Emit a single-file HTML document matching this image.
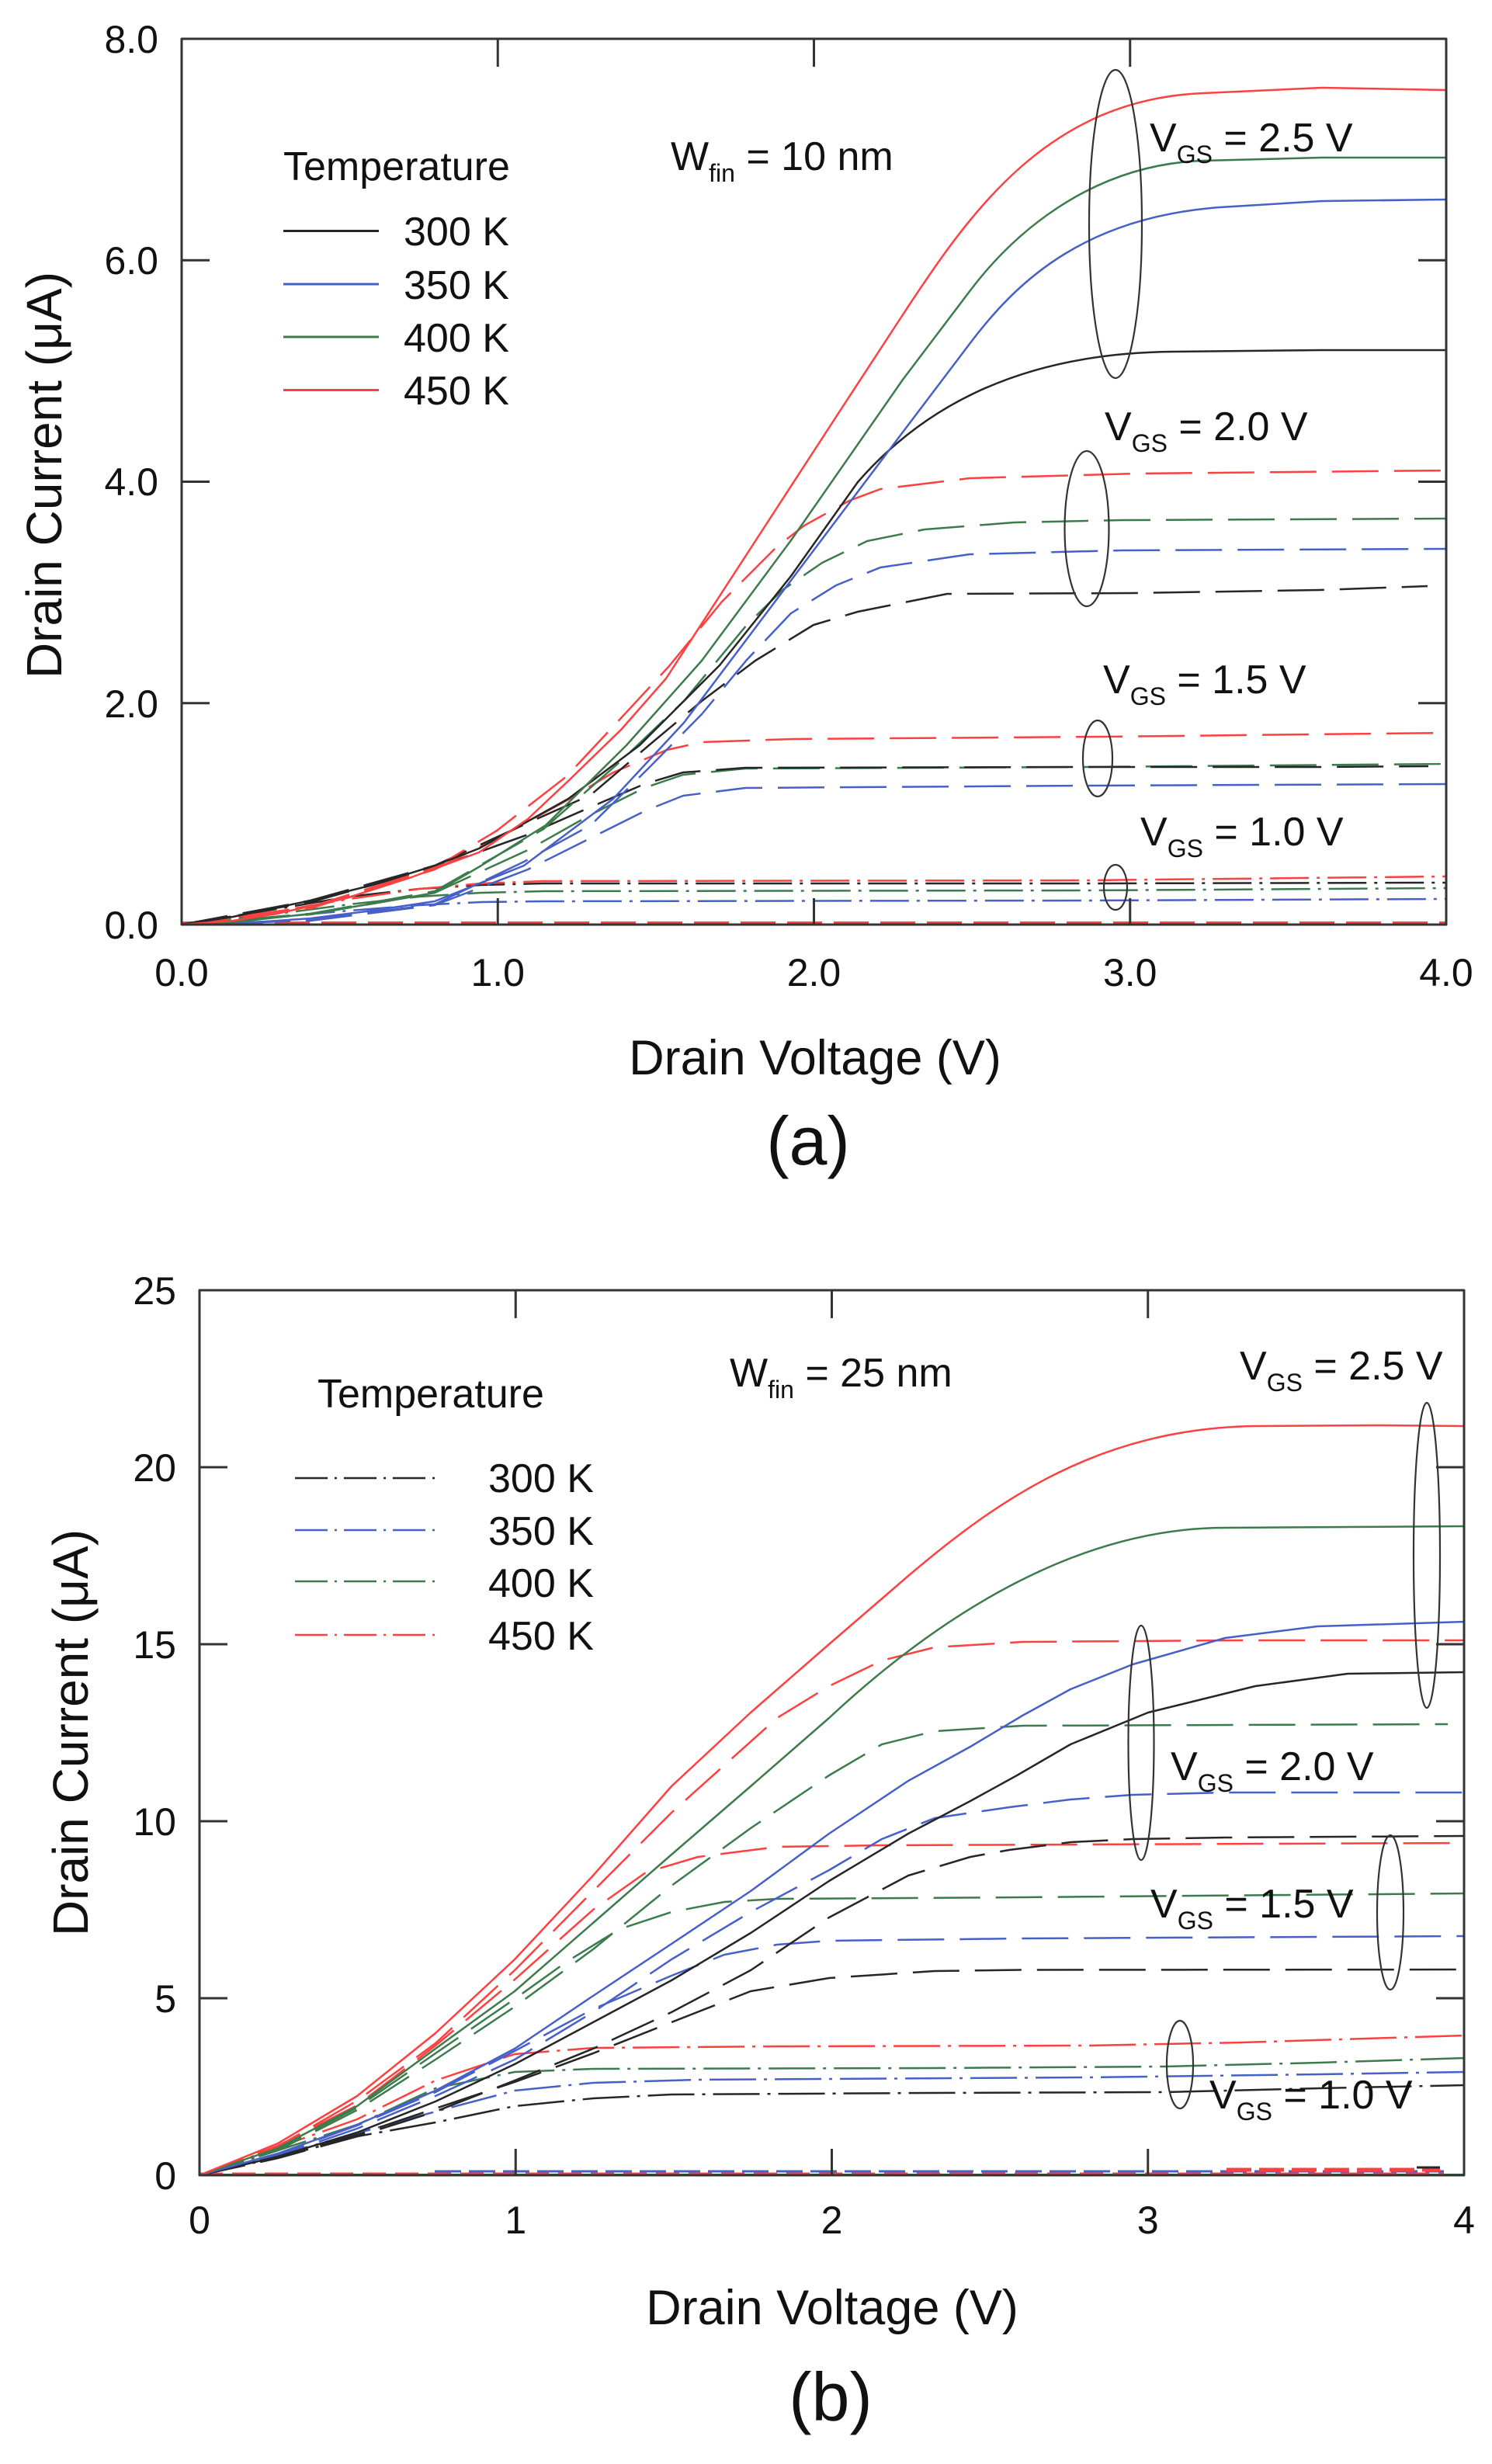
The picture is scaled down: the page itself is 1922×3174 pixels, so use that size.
<!DOCTYPE html>
<html>
<head>
<meta charset="utf-8">
<style>
html,body{margin:0;padding:0;background:#fff;}
svg{display:block;}
text{font-family:"Liberation Sans",Arial,sans-serif;fill:#111;white-space:pre;}
</style>
</head>
<body>
<svg width="1922" height="3174" viewBox="0 0 1922 3174" xmlns="http://www.w3.org/2000/svg">
<rect x="0" y="0" width="1922" height="3174" fill="#fff"/>

<!-- ================= PANEL (a) ================= -->
<g fill="none" stroke-linejoin="round" stroke-linecap="butt">
  <line x1="234" y1="1191" x2="1863" y2="1191" stroke="#3c7c4c" stroke-width="2"/>
  <line x1="234" y1="1189" x2="1863" y2="1189" stroke="#ff4040" stroke-width="4" stroke-dasharray="45 15"/>

  <g stroke-width="2.5" stroke-dasharray="50 10 4 10">
    <path stroke="#4660c8" d="M234,1191 L350,1182 L450,1173 L540,1166 L620,1162 L700,1161 L1400,1160 L1863,1158"/>
    <path stroke="#3c7c4c" d="M234,1191 L350,1178 L450,1165 L540,1155 L620,1150 L700,1148 L1400,1147 L1863,1144"/>
    <path stroke="#262626" d="M234,1191 L350,1172 L450,1155 L540,1145 L620,1140 L700,1138 L1400,1138 L1863,1137"/>
    <path stroke="#ff4040" d="M234,1191 L350,1175 L450,1158 L540,1145 L620,1138 L700,1135 L1400,1134 L1863,1129"/>
  </g>

  <g stroke-width="2.5" stroke-dasharray="60 20">
    <path stroke="#4660c8" d="M234,1191 L400,1186 L560,1166 L680,1120 L760,1080 L830,1045 L880,1025 L960,1015 L1400,1012 L1863,1010"/>
    <path stroke="#3c7c4c" d="M234,1191 L400,1178 L560,1150 L680,1095 L760,1050 L830,1015 L880,998 L960,990 L1400,988 L1863,984"/>
    <path stroke="#262626" d="M234,1191 L400,1162 L560,1118 L680,1075 L760,1040 L830,1010 L880,995 L960,989 L1400,988 L1700,988 L1840,987"/>
    <path stroke="#ff4040" d="M234,1191 L400,1170 L560,1120 L650,1075 L732,1030 L790,995 L859,966 L904,956 L1019,952 L1421,949 L1863,944"/>
  </g>

  <g stroke-width="2.5" stroke-dasharray="60 20">
    <path stroke="#262626" d="M234,1191 L400,1160 L560,1115 L680,1060 L761,1024 L836,960 L904,903 L973,851 L1048,805 L1105,788 L1220,765 L1456,764 L1700,760 L1839,755"/>
    <path stroke="#4660c8" d="M234,1191 L400,1185 L560,1165 L675,1110 L761,1063 L836,989 L904,920 L962,850 L1019,790 L1077,754 L1134,731 L1249,714 L1444,709 L1863,707"/>
    <path stroke="#3c7c4c" d="M234,1191 L400,1177 L560,1148 L700,1068 L800,980 L881,903 L962,805 L1008,760 L1059,725 L1117,697 L1191,682 L1306,673 L1444,670 L1863,668"/>
    <path stroke="#ff4040" d="M234,1191 L400,1168 L560,1118 L640,1070 L730,1000 L800,925 L862,858 L930,775 L1000,705 L1036,677 L1094,645 L1134,630 L1249,616 L1463,610 L1863,606"/>
  </g>

  <g stroke-width="2.5">
    <path stroke="#262626" d="M234,1191 L300,1181 L400,1160 L480,1140 L560,1115 L617,1093 L732,1029 L824,960 L927,857 L1019,742 L1105,621 C1180,535 1300,455 1511,453 L1703,451 L1863,451"/>
    <path stroke="#4660c8" d="M234,1191 L300,1190 L400,1183 L480,1173 L560,1161 L675,1115 L790,1029 L881,931 L1036,725 L1134,595 L1249,443 C1310,362 1400,275 1588,266 L1703,259 L1863,257"/>
    <path stroke="#3c7c4c" d="M234,1191 L300,1188 L400,1177 L480,1164 L560,1150 L620,1115 L703,1063 L807,960 L904,851 L1019,696 L1163,489 L1250,374 C1300,308 1400,212 1550,207 L1703,203 L1863,203"/>
    <path stroke="#ff4040" d="M234,1191 L300,1186 L356,1177 L446,1157 L530,1130 L617,1098 L680,1055 L732,1006 L800,940 L858,874 L960,717 L1077,537 L1160,410 C1250,272 1350,128 1550,120 L1703,113 L1863,116"/>
  </g>

  <g stroke="#333" stroke-width="2.2">
    <ellipse cx="1437" cy="288.5" rx="34" ry="198.5"/>
    <ellipse cx="1400" cy="681" rx="28.5" ry="100"/>
    <ellipse cx="1414" cy="977" rx="19" ry="49"/>
    <ellipse cx="1437" cy="1143" rx="15" ry="29"/>
  </g>

  <g stroke-width="3">
    <line x1="365" y1="297.5" x2="488" y2="297.5" stroke="#262626"/>
    <line x1="365" y1="366" x2="488" y2="366" stroke="#4660c8"/>
    <line x1="365" y1="434" x2="488" y2="434" stroke="#3c7c4c"/>
    <line x1="365" y1="502.5" x2="488" y2="502.5" stroke="#ff4040"/>
  </g>

  <rect x="234" y="50" width="1629" height="1141" stroke="#333" stroke-width="3"/>
  <g stroke="#333" stroke-width="3">
    <line x1="234" y1="905.75" x2="270" y2="905.75"/>
    <line x1="234" y1="620.5" x2="270" y2="620.5"/>
    <line x1="234" y1="335.25" x2="270" y2="335.25"/>
    <line x1="1863" y1="905.75" x2="1827" y2="905.75"/>
    <line x1="1863" y1="620.5" x2="1827" y2="620.5"/>
    <line x1="1863" y1="335.25" x2="1827" y2="335.25"/>
    <line x1="641.25" y1="1191" x2="641.25" y2="1157"/>
    <line x1="1048.5" y1="1191" x2="1048.5" y2="1157"/>
    <line x1="1455.75" y1="1191" x2="1455.75" y2="1157"/>
    <line x1="641.25" y1="50" x2="641.25" y2="86"/>
    <line x1="1048.5" y1="50" x2="1048.5" y2="86"/>
    <line x1="1455.75" y1="50" x2="1455.75" y2="86"/>
  </g>
</g>

<g font-size="50" text-anchor="end">
  <text x="204" y="68">8.0</text>
  <text x="204" y="353">6.0</text>
  <text x="204" y="638">4.0</text>
  <text x="204" y="924">2.0</text>
  <text x="204" y="1209">0.0</text>
</g>
<g font-size="50" text-anchor="middle">
  <text x="234" y="1270">0.0</text>
  <text x="641.25" y="1270">1.0</text>
  <text x="1048.5" y="1270">2.0</text>
  <text x="1455.75" y="1270">3.0</text>
  <text x="1863" y="1270">4.0</text>
</g>
<text x="1050" y="1384" font-size="63" text-anchor="middle">Drain Voltage (V)</text>
<text transform="translate(79,612) rotate(-90)" font-size="64" text-anchor="middle">Drain Current (μA)</text>
<text x="1041" y="1500" font-size="88" text-anchor="middle">(a)</text>

<g font-size="52">
  <text x="365" y="232">Temperature</text>
  <text x="520" y="316">300 K</text>
  <text x="520" y="385">350 K</text>
  <text x="520" y="453">400 K</text>
  <text x="520" y="521">450 K</text>
  <text x="864" y="219">W<tspan font-size="32" dy="15">fin</tspan><tspan dy="-15"> = 10 nm</tspan></text>
  <text x="1481" y="195">V<tspan font-size="32" dy="15">GS</tspan><tspan dy="-15"> = 2.5 V</tspan></text>
  <text x="1423" y="567">V<tspan font-size="32" dy="15">GS</tspan><tspan dy="-15"> = 2.0 V</tspan></text>
  <text x="1421" y="893">V<tspan font-size="32" dy="15">GS</tspan><tspan dy="-15"> = 1.5 V</tspan></text>
  <text x="1469" y="1089">V<tspan font-size="32" dy="15">GS</tspan><tspan dy="-15"> = 1.0 V</tspan></text>
</g>

<!-- ================= PANEL (b) ================= -->
<g fill="none" stroke-linejoin="round" stroke-linecap="butt">
  <line x1="257" y1="2801" x2="1886" y2="2801" stroke="#3c7c4c" stroke-width="2"/>
  <line x1="257" y1="2800" x2="1860" y2="2800" stroke="#ff4040" stroke-width="3" stroke-dasharray="30 12"/>
  <line x1="560" y1="2797" x2="1860" y2="2797" stroke="#4660c8" stroke-width="3" stroke-dasharray="34 10"/>
  <line x1="1580" y1="2795" x2="1855" y2="2795" stroke="#ff4040" stroke-width="5" stroke-dasharray="32 10"/>
  <line x1="1825" y1="2792" x2="1855" y2="2792" stroke="#262626" stroke-width="3"/>

  <g stroke-width="2.5" stroke-dasharray="60 10 4 10">
    <path stroke="#262626" d="M257,2802 L358,2779 L460,2752 L561,2734 L663,2713 L764,2703 L865,2698 L1200,2696 L1500,2695 L1700,2690 L1887,2686"/>
    <path stroke="#4660c8" d="M257,2802 L358,2776 L460,2748 L561,2720 L663,2693 L764,2683 L900,2679 L1400,2676 L1700,2672 L1887,2669"/>
    <path stroke="#3c7c4c" d="M257,2802 L358,2770 L460,2737 L561,2690 L663,2669 L764,2665 L1200,2664 L1500,2662 L1700,2657 L1887,2651"/>
    <path stroke="#ff4040" d="M257,2802 L358,2766 L460,2730 L561,2680 L663,2646 L764,2638 L1000,2636 L1400,2635 L1600,2631 L1887,2622"/>
  </g>

  <g stroke-width="2.5" stroke-dasharray="60 20">
    <path stroke="#262626" d="M257,2802 L358,2779 L460,2750 L561,2716 L663,2682 L764,2645 L865,2605 L967,2565 L1068,2548 L1204,2539 L1317,2537.5 L1887,2537"/>
    <path stroke="#4660c8" d="M257,2802 L358,2775 L460,2738 L561,2695 L663,2642 L764,2588 L865,2545 L933,2518 L1001,2505 L1068,2500 L1317,2497 L1887,2494"/>
    <path stroke="#3c7c4c" d="M257,2802 L358,2768 L460,2715 L561,2645 L663,2575 L730,2527 L798,2485 L865,2463 L933,2450 L1001,2446 L1317,2444 L1887,2439"/>
    <path stroke="#ff4040" d="M257,2802 L358,2764 L460,2712 L561,2635 L663,2550 L764,2460 L832,2412 L899,2392 L1001,2379 L1136,2377 L1887,2374"/>
  </g>

  <g stroke-width="2.5" stroke-dasharray="60 20">
    <path stroke="#262626" d="M257,2802 L358,2780 L460,2752 L561,2720 L663,2680 L764,2639 L865,2592 L967,2538 L1068,2470 L1170,2416 L1250,2392 L1300,2383 L1379,2373 L1459,2369 L1578,2367 L1887,2365"/>
    <path stroke="#4660c8" d="M257,2802 L358,2777 L460,2742 L561,2700 L663,2653 L764,2592 L865,2524 L967,2463 L1068,2409 L1136,2369 L1204,2342 L1300,2328 L1379,2318 L1459,2312 L1578,2309 L1887,2309"/>
    <path stroke="#3c7c4c" d="M257,2802 L358,2770 L460,2718 L561,2653 L663,2585 L764,2511 L865,2429 L967,2355 L1068,2287 L1136,2247 L1204,2230 L1317,2223 L1865,2221"/>
    <path stroke="#ff4040" d="M257,2802 L358,2765 L460,2706 L561,2632 L663,2538 L764,2436 L865,2335 L933,2274 L1001,2213 L1068,2172 L1136,2139 L1204,2122 L1317,2115 L1600,2113 L1887,2113"/>
  </g>

  <g stroke-width="2.5">
    <path stroke="#262626" d="M257,2802 L358,2778 L460,2747 L561,2707 L663,2659 L764,2605 L865,2551 L967,2490 L1068,2423 L1170,2362 L1250,2320 L1310,2287 L1379,2247 L1479,2206 L1617,2172 L1736,2156 L1887,2154"/>
    <path stroke="#4660c8" d="M257,2802 L358,2774 L460,2737 L561,2693 L663,2639 L764,2571 L865,2504 L967,2436 L1068,2362 L1170,2294 L1250,2250 L1317,2210 L1379,2176 L1459,2144 L1578,2110 L1697,2095 L1887,2089"/>
    <path stroke="#3c7c4c" d="M257,2802 L358,2767 L460,2713 L561,2639 L663,2565 L764,2477 L865,2389 L967,2301 L1068,2213 C1200,2090 1380,1968 1578,1968 L1887,1966"/>
    <path stroke="#ff4040" d="M257,2802 L358,2761 L460,2700 L561,2619 L663,2524 L764,2416 L865,2301 L967,2206 L1068,2118 L1170,2030 C1290,1928 1420,1840 1617,1837 L1776,1836 L1887,1837"/>
  </g>

  <g stroke="#333" stroke-width="2.2">
    <ellipse cx="1838" cy="2003.5" rx="17" ry="196.5"/>
    <ellipse cx="1470" cy="2245" rx="16.5" ry="151"/>
    <ellipse cx="1791" cy="2463.5" rx="17" ry="99.5"/>
    <ellipse cx="1520" cy="2659.5" rx="17" ry="56.5"/>
  </g>

  <g stroke-width="2.5" stroke-dasharray="42 9 3 9">
    <line x1="380" y1="1904" x2="568" y2="1904" stroke="#262626"/>
    <line x1="380" y1="1971" x2="568" y2="1971" stroke="#4660c8"/>
    <line x1="380" y1="2037" x2="568" y2="2037" stroke="#3c7c4c"/>
    <line x1="380" y1="2106" x2="568" y2="2106" stroke="#ff4040"/>
  </g>

  <rect x="257" y="1662" width="1629" height="1140" stroke="#333" stroke-width="3"/>
  <g stroke="#333" stroke-width="3">
    <line x1="257" y1="1890" x2="293" y2="1890"/>
    <line x1="257" y1="2118" x2="293" y2="2118"/>
    <line x1="257" y1="2346" x2="293" y2="2346"/>
    <line x1="257" y1="2574" x2="293" y2="2574"/>
    <line x1="1886" y1="1890" x2="1850" y2="1890"/>
    <line x1="1886" y1="2118" x2="1850" y2="2118"/>
    <line x1="1886" y1="2346" x2="1850" y2="2346"/>
    <line x1="1886" y1="2574" x2="1850" y2="2574"/>
    <line x1="664.25" y1="2802" x2="664.25" y2="2768"/>
    <line x1="1071.5" y1="2802" x2="1071.5" y2="2768"/>
    <line x1="1478.75" y1="2802" x2="1478.75" y2="2768"/>
    <line x1="664.25" y1="1662" x2="664.25" y2="1698"/>
    <line x1="1071.5" y1="1662" x2="1071.5" y2="1698"/>
    <line x1="1478.75" y1="1662" x2="1478.75" y2="1698"/>
  </g>
</g>

<g font-size="50" text-anchor="end">
  <text x="227" y="1680">25</text>
  <text x="227" y="1908">20</text>
  <text x="227" y="2136">15</text>
  <text x="227" y="2364">10</text>
  <text x="227" y="2592">5</text>
  <text x="227" y="2820">0</text>
</g>
<g font-size="50" text-anchor="middle">
  <text x="257" y="2877">0</text>
  <text x="664.25" y="2877">1</text>
  <text x="1071.5" y="2877">2</text>
  <text x="1478.75" y="2877">3</text>
  <text x="1886" y="2877">4</text>
</g>
<text x="1072" y="2994" font-size="63" text-anchor="middle">Drain Voltage (V)</text>
<text transform="translate(113,2232) rotate(-90)" font-size="64" text-anchor="middle">Drain Current (μA)</text>
<text x="1070" y="3118" font-size="88" text-anchor="middle">(b)</text>

<g font-size="52">
  <text x="409" y="1813">Temperature</text>
  <text x="629" y="1922">300 K</text>
  <text x="629" y="1990">350 K</text>
  <text x="629" y="2057">400 K</text>
  <text x="629" y="2125">450 K</text>
  <text x="940" y="1786">W<tspan font-size="32" dy="15">fin</tspan><tspan dy="-15"> = 25 nm</tspan></text>
  <text x="1597" y="1777">V<tspan font-size="32" dy="15">GS</tspan><tspan dy="-15"> = 2.5 V</tspan></text>
  <text x="1508" y="2293">V<tspan font-size="32" dy="15">GS</tspan><tspan dy="-15"> = 2.0 V</tspan></text>
  <text x="1482" y="2470">V<tspan font-size="32" dy="15">GS</tspan><tspan dy="-15"> = 1.5 V</tspan></text>
  <text x="1558" y="2716">V<tspan font-size="32" dy="15">GS</tspan><tspan dy="-15"> = 1.0 V</tspan></text>
</g>
</svg>
</body>
</html>
